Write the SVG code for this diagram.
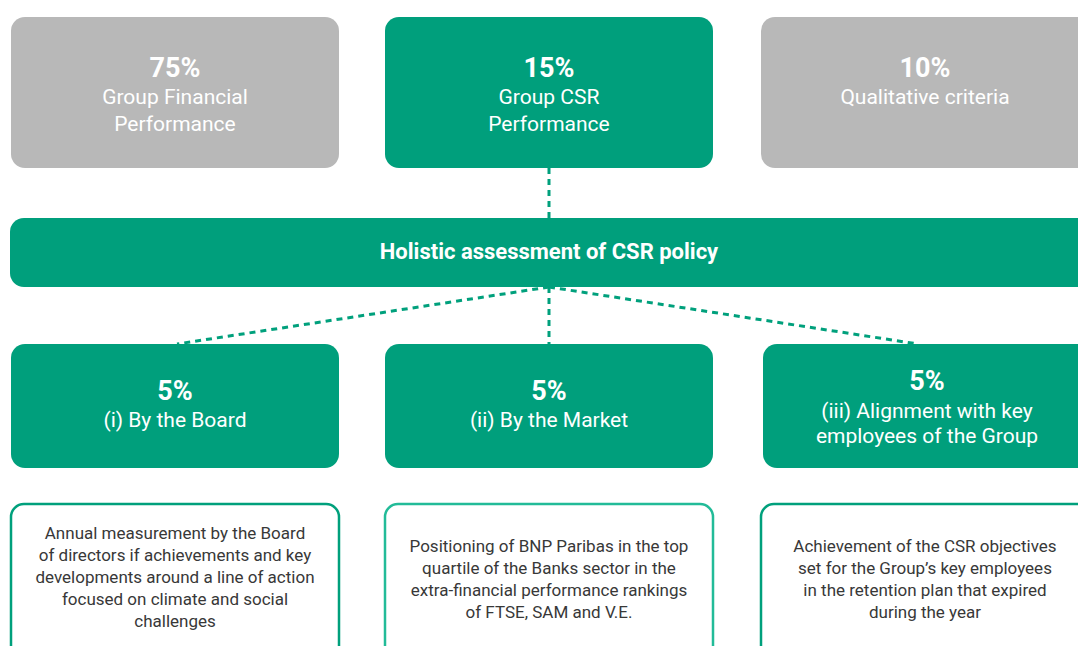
<svg xmlns="http://www.w3.org/2000/svg" width="1078" height="646" viewBox="0 0 1078 646">
<style>
.g{fill:#009f7c}
.gr{fill:#b8b8b8}
.ob{fill:#fff;stroke:#00a07c;stroke-width:2.5}
.ob2{fill:#fff;stroke:#22bb98;stroke-width:2.5}
text{font-family:Roboto,"Liberation Sans",sans-serif;text-anchor:middle}
.w{fill:#fff;font-size:21px}
.pct{font-weight:bold;font-size:27px}
.bar{fill:#fff;font-weight:bold;font-size:22px}
.d{fill:#383838;font-size:17px}
.c{stroke:#00a07c;stroke-width:3;stroke-dasharray:6 5;fill:none}
</style>
<g id="connectors">
<line class="c" x1="549" y1="168" x2="549" y2="218"/>
<line class="c" x1="549" y1="287" x2="177" y2="344"/>
<line class="c" x1="549" y1="287" x2="549" y2="344"/>
<line class="c" x1="549" y1="287" x2="918" y2="344"/>
</g>
<g id="n75">
<rect class="gr" x="11" y="17" width="328" height="151" rx="14"/>
<text class="w"><tspan class="pct" x="175" y="77">75%</tspan><tspan x="175" y="104">Group Financial</tspan><tspan x="175" y="131">Performance</tspan></text>
</g>
<g id="n15">
<rect class="g" x="385" y="17" width="328" height="151" rx="14"/>
<text class="w"><tspan class="pct" x="549" y="77">15%</tspan><tspan x="549" y="104">Group CSR</tspan><tspan x="549" y="131">Performance</tspan></text>
</g>
<g id="n10">
<rect class="gr" x="761" y="17" width="340" height="151" rx="14"/>
<text class="w"><tspan class="pct" x="925" y="77">10%</tspan><tspan x="925" y="104">Qualitative criteria</tspan></text>
</g>
<g id="holistic">
<rect class="g" x="10" y="218" width="1090" height="69" rx="14"/>
<text class="bar" x="549" y="259">Holistic assessment of CSR policy</text>
</g>
<g id="board">
<rect class="g" x="11" y="344" width="328" height="124" rx="14"/>
<text class="w"><tspan class="pct" x="175" y="400">5%</tspan><tspan x="175" y="427">(i) By the Board</tspan></text>
</g>
<g id="market">
<rect class="g" x="385" y="344" width="328" height="124" rx="14"/>
<text class="w"><tspan class="pct" x="549" y="400">5%</tspan><tspan x="549" y="427">(ii) By the Market</tspan></text>
</g>
<g id="align">
<rect class="g" x="763" y="344" width="340" height="124" rx="14"/>
<text class="w"><tspan class="pct" x="927" y="390">5%</tspan><tspan x="927" y="417.5">(iii) Alignment with key</tspan><tspan x="927" y="443">employees of the Group</tspan></text>
</g>
<g id="d1">
<rect class="ob" x="11" y="504" width="328" height="160" rx="13"/>
<text class="d"><tspan x="175" y="539">Annual measurement by the Board</tspan><tspan x="175" y="561">of directors if achievements and key</tspan><tspan x="175" y="583">developments around a line of action</tspan><tspan x="175" y="605">focused on climate and social</tspan><tspan x="175" y="627">challenges</tspan></text>
</g>
<g id="d2">
<rect class="ob2" x="385" y="504" width="328" height="160" rx="13"/>
<text class="d"><tspan x="549" y="552">Positioning of BNP Paribas in the top</tspan><tspan x="549" y="574">quartile of the Banks sector in the</tspan><tspan x="549" y="596">extra-financial performance rankings</tspan><tspan x="549" y="618">of FTSE, SAM and V.E.</tspan></text>
</g>
<g id="d3">
<rect class="ob" x="761" y="504" width="340" height="160" rx="13"/>
<text class="d"><tspan x="925" y="552">Achievement of the CSR objectives</tspan><tspan x="925" y="574">set for the Group’s key employees</tspan><tspan x="925" y="596">in the retention plan that expired</tspan><tspan x="925" y="618">during the year</tspan></text>
</g>
</svg>
